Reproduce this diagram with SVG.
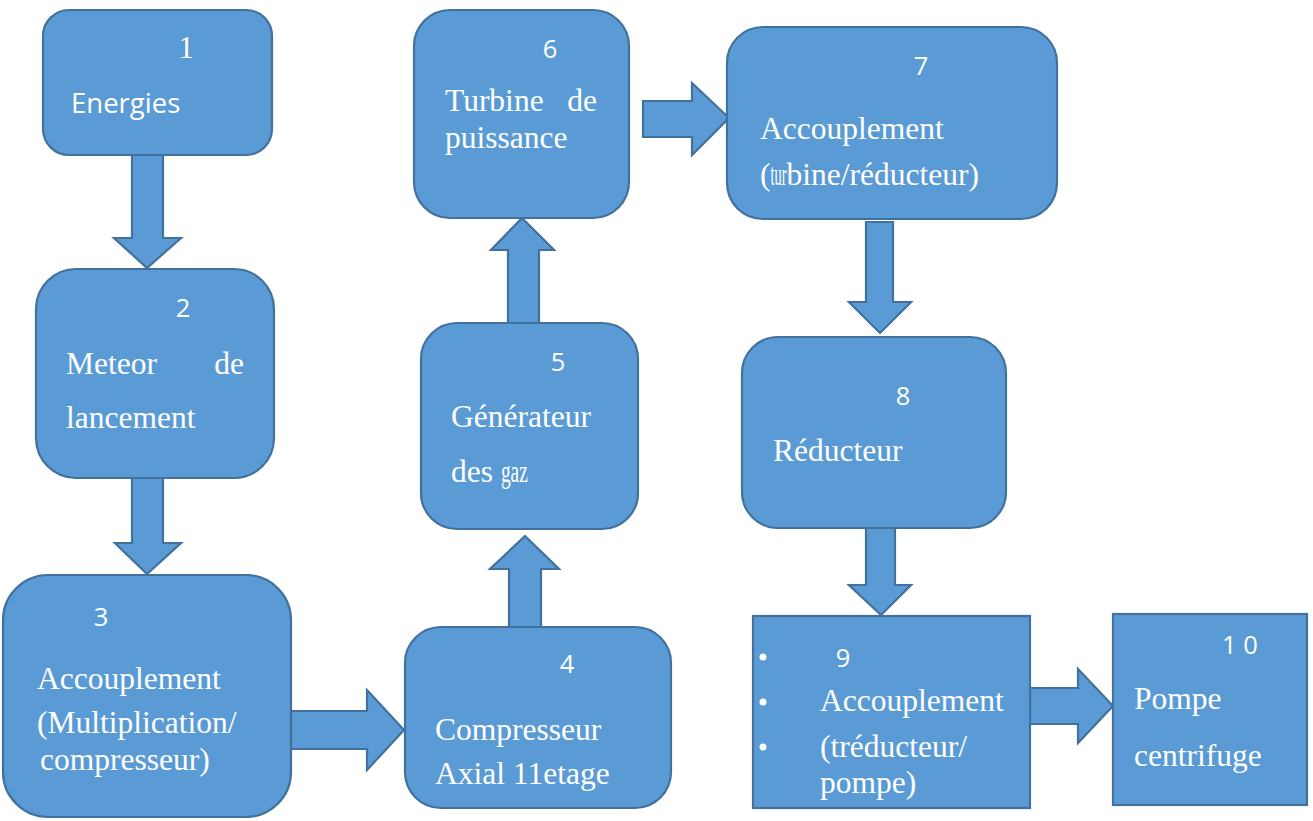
<svg xmlns="http://www.w3.org/2000/svg" width="1313" height="821" viewBox="0 0 1313 821">
<style>
.box{fill:#5B9BD5;stroke:#41719C;stroke-width:2.2}
.arr{fill:#5B9BD5;stroke:#41719C;stroke-width:2.2;stroke-linejoin:miter}
.num{font-family:"Open Sans","Liberation Sans",sans-serif;font-size:25.5px;fill:#fff}
.sans{font-family:"Open Sans","Liberation Sans",sans-serif;font-size:27.5px;fill:#fff}
.ser{font-family:"Liberation Serif","Times New Roman",serif;font-size:31.5px;fill:#fff}
.dot{fill:#fff}
</style>
<rect width="1313" height="821" fill="#fff"/>
<g id="connectors">
<polygon class="arr" points="132,152 163,152 163,238 181,238 147,268 114,238 132,238"/>
<polygon class="arr" points="132,477 163,477 163,543 181,543 147,574 115,543 132,543"/>
<polygon class="arr" points="291,711 367,711 367,690 404,730 367,770 367,749 291,749"/>
<polygon class="arr" points="509,629 541,629 541,569 559,569 525,536 490,569 509,569"/>
<polygon class="arr" points="508,324 539,324 539,250 554,250 522,218 491,250 508,250"/>
<polygon class="arr" points="643,101 692,101 692,83 729,118 692,155 692,137 643,137"/>
<polygon class="arr" points="866,222 893,222 893,302 911,302 880,333 849,302 866,302"/>
<polygon class="arr" points="866,521 895,521 895,585 911,585 881,615 849,585 866,585"/>
<polygon class="arr" points="1030,688 1078,688 1078,669 1113,706 1078,743 1078,724 1030,724"/>
</g>
<g id="node1">
<rect class="box" x="43" y="10" width="229" height="145" rx="26"/>
<text class="ser" x="186" y="58" font-size="27" text-anchor="middle">1</text>
<text class="sans" x="71" y="113">Energies</text>
</g>
<g id="node2">
<rect class="box" x="36" y="269" width="238" height="209" rx="40"/>
<text class="num" x="183" y="317" text-anchor="middle">2</text>
<text class="ser" x="66" y="374">Meteor</text>
<text class="ser" x="244" y="374" text-anchor="end">de</text>
<text class="ser" x="66" y="428">lancement</text>
</g>
<g id="node3">
<rect class="box" x="3" y="575" width="288" height="242" rx="45"/>
<text class="num" x="101" y="626" text-anchor="middle">3</text>
<text class="ser" x="37" y="689">Accouplement</text>
<text class="ser" x="37" y="733">(Multiplication/</text>
<text class="ser" x="40" y="770">compresseur)</text>
</g>
<g id="node4">
<rect class="box" x="405" y="627" width="266" height="181" rx="36"/>
<text class="num" x="567" y="673" text-anchor="middle">4</text>
<text class="ser" x="435" y="740">Compresseur</text>
<text class="ser" x="435" y="784">Axial 11etage</text>
</g>
<g id="node5">
<rect class="box" x="421" y="323" width="217" height="206" rx="36"/>
<text class="num" x="558" y="371" text-anchor="middle">5</text>
<text class="ser" x="451" y="427">Générateur</text>
<text class="ser" x="451" y="482">des <tspan textLength="27" lengthAdjust="spacingAndGlyphs">gaz</tspan></text>
</g>
<g id="node6">
<rect class="box" x="414" y="10" width="215" height="208" rx="36"/>
<text class="num" x="550" y="58" text-anchor="middle">6</text>
<text class="ser" x="445" y="111">Turbine</text>
<text class="ser" x="597" y="111" text-anchor="end">de</text>
<text class="ser" x="445" y="148">puissance</text>
</g>
<g id="node7">
<rect class="box" x="727" y="27" width="330" height="192" rx="36"/>
<text class="num" x="921" y="75" text-anchor="middle">7</text>
<text class="ser" x="760" y="139">Accouplement</text>
<text class="ser" x="760" y="185">(<tspan textLength="16" lengthAdjust="spacingAndGlyphs">tur</tspan>bine/réducteur)</text>
</g>
<g id="node8">
<rect class="box" x="742" y="337" width="264" height="191" rx="36"/>
<text class="num" x="903" y="405" text-anchor="middle">8</text>
<text class="ser" x="773" y="461">Réducteur</text>
</g>
<g id="node9">
<rect class="box" x="753" y="616" width="277" height="192"/>
<circle class="dot" cx="763" cy="657" r="3.5"/>
<circle class="dot" cx="763" cy="702" r="3.5"/>
<circle class="dot" cx="763" cy="747" r="3.5"/>
<text class="num" x="843" y="667" text-anchor="middle">9</text>
<text class="ser" x="820" y="711">Accouplement</text>
<text class="ser" x="820" y="757">(tréducteur/</text>
<text class="ser" x="820" y="793">pompe)</text>
</g>
<g id="node10">
<rect class="box" x="1113" y="614" width="194" height="191"/>
<text class="num" x="1240" y="654" text-anchor="middle">1 0</text>
<text class="ser" x="1134" y="709">Pompe</text>
<text class="ser" x="1134" y="766">centrifuge</text>
</g>
</svg>
